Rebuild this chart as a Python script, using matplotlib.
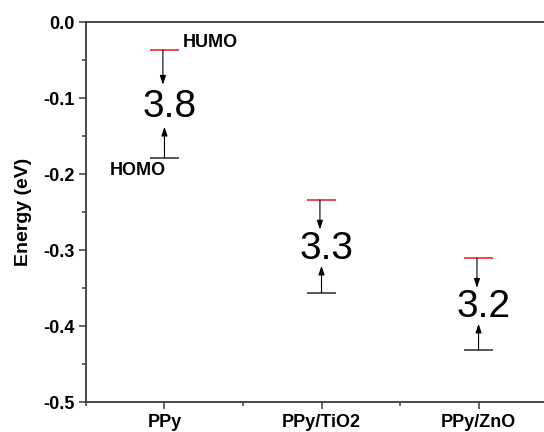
import matplotlib.pyplot as plt
from matplotlib.ticker import MultipleLocator, FixedLocator

# 数据
categories = ['PPy', 'PPy/TiO2', 'PPy/ZnO']
humo = [-0.037, -0.234, -0.311]
homo = [-0.179, -0.356, -0.432]
gap_labels = ['3.8', '3.3', '3.2']

plt.rcParams['font.family'] = ['Liberation Sans', 'DejaVu Sans']
plt.rcParams['font.weight'] = 'bold'
plt.rcParams['axes.unicode_minus'] = False

fig = plt.figure(figsize=(5.44, 4.32), dpi=100)
ax = fig.add_axes([0.158, 0.0694, 0.866, 0.8796])

x = [1, 2, 3]
hw = 0.09
red = '#ef3b3b'
gray = '#4a4a4a'

for xi, hu, ho, lab in zip(x, humo, homo, gap_labels):
    ax.hlines(hu, xi - hw, xi + hw, color=red, lw=1.3)
    ax.hlines(ho, xi - hw, xi + hw, color=gray, lw=1.3)
    gap = hu - ho
    mid = (hu + ho) / 2
    # 向下箭头 (HUMO -> 中间)
    ax.annotate('', xy=(xi - 0.01, hu - 0.32 * gap), xytext=(xi - 0.01, hu),
                arrowprops=dict(arrowstyle='-|>,head_length=0.6,head_width=0.2',
                                color='black', lw=0.8,
                                mutation_scale=9, shrinkA=0, shrinkB=0))
    # 向上箭头 (HOMO -> 中间)
    ax.annotate('', xy=(xi, ho + 0.29 * gap), xytext=(xi, ho),
                arrowprops=dict(arrowstyle='-|>,head_length=0.6,head_width=0.2',
                                color='black', lw=0.8,
                                mutation_scale=9, shrinkA=0, shrinkB=0))
    ax.text(xi + 0.03, mid - 0.004, lab, fontsize=28, fontweight='normal',
            ha='center', va='center')

ax.text(1.115, humo[0] - 0.001, 'HUMO', fontsize=13, ha='left', va='bottom')
ax.text(0.65, homo[0] - 0.005, 'HOMO', fontsize=13, ha='left', va='top')

ax.set_xlim(0.5, 3.5)
ax.set_ylim(-0.5, 0.0)
ax.xaxis.set_major_locator(FixedLocator(x))
ax.xaxis.set_minor_locator(FixedLocator([0.5, 1.5, 2.5]))
ax.set_xticklabels(categories)
ax.yaxis.set_major_locator(MultipleLocator(0.1))
ax.yaxis.set_minor_locator(MultipleLocator(0.05))
ax.set_ylabel('Energy (eV)', fontsize=14, fontweight='bold')
ax.yaxis.set_label_coords(-0.115, 0.5)

for sp in ax.spines.values():
    sp.set_color('#3a3a3a')
    sp.set_linewidth(1.3)
ax.tick_params(which='major', direction='out', length=5, width=1.1,
               color='#3a3a3a', labelsize=13)
ax.tick_params(which='minor', direction='out', length=3, width=1.1,
               color='#3a3a3a')

fig.savefig('out.png', dpi=100)
